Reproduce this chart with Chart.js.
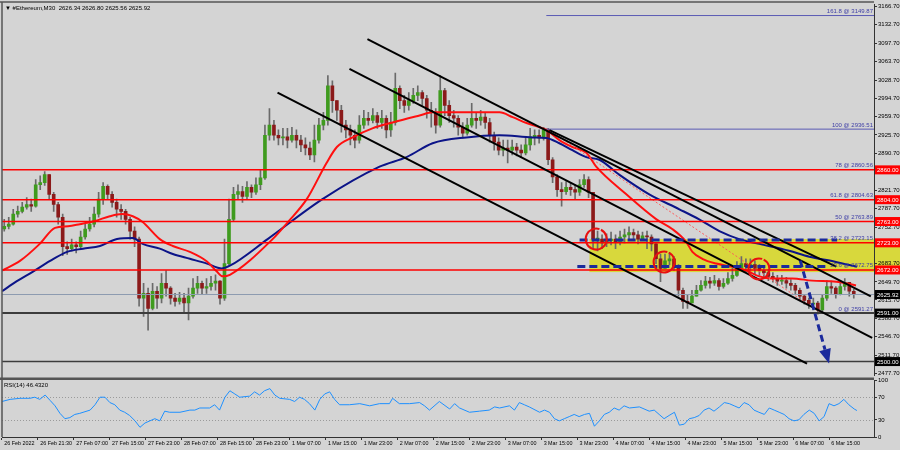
<!DOCTYPE html>
<html>
<head>
<meta charset="utf-8">
<script src="https://cdn.jsdelivr.net/npm/chart.js@4.4.0/dist/chart.umd.min.js"></script>
<style>
  html, body { margin: 0; padding: 0; background: #d4d4d4; }
  #wrap { position: relative; width: 900px; height: 450px; overflow: hidden; }
  canvas { position: absolute; left: 0; }
</style>
</head>
<body>
<div id="wrap">
  <canvas id="main" width="900" height="380" style="top:0"></canvas>
  <canvas id="rsi" width="900" height="80" style="top:370px"></canvas>
</div>
<script>
// time axis labels, one every 8 candle slots
const tickLabels = ['26 Feb 2022', '26 Feb 21:30', '27 Feb 07:00', '27 Feb 15:00', '27 Feb 23:00', '28 Feb 07:00',
  '28 Feb 15:00', '28 Feb 23:00', '1 Mar 07:00', '1 Mar 15:00', '1 Mar 23:00', '2 Mar 07:00', '2 Mar 15:00',
  '2 Mar 23:00', '3 Mar 07:00', '3 Mar 15:00', '3 Mar 23:00', '4 Mar 07:00', '4 Mar 15:00', '4 Mar 23:00',
  '5 Mar 15:00', '5 Mar 23:00', '6 Mar 07:00', '6 Mar 15:00'];
const nSlots = 194;
const firstOpen = 2749;

const closes = [2754,2758,2777,2782,2790,2795,2792,2832,2836,2851, 2814,2795,2771,2716,2712,2719,2716,2734,2749,2758,
  2777,2805,2829,2814,2799,2786,2782,2767,2745,2730, 2619,2628,2600,2632,2619,2647,2638,2619,2613,2619,
  2610,2623,2638,2647,2638,2641,2647,2651,2619,2684, 2767,2814,2819,2810,2827,2818,2832,2845,2925,2944,
  2925,2920,2922,2916,2925,2916,2907,2901,2888,2916, 2944,2953,3018,2990,2972,2944,2935,2925,2916,2944,
  2957,2953,2962,2949,2957,2935,2949,3013,2990,2981, 2990,3000,3005,2994,2972,2968,2944,3009,2981,2962,
  2957,2940,2929,2944,2957,2953,2959,2949,2925,2912, 2897,2901,2897,2903,2897,2892,2907,2922,2925,2920,
  2935,2879,2847,2823,2819,2827,2823,2818,2832,2842, 2818,2730,2730,2723,2727,2730,2725,2734,2738,2742,
  2738,2730,2736,2734,2721,2693,2675,2689,2693,2678, 2634,2613,2610,2623,2634,2643,2651,2647,2652,2641,
  2647,2656,2662,2675,2684,2678,2682,2675,2671,2667, 2660,2656,2651,2652,2647,2643,2634,2623,2615,2608,
  2610,2597,2619,2641,2638,2626,2641,2649,2632,2625.92];

const highs = [2767,2771,2786,2792,2799,2808,2805,2842,2849,2857, 2849,2818,2799,2777,2725,2730,2725,2745,2758,2771,
  2790,2818,2836,2832,2819,2805,2795,2786,2771,2753, 2734,2647,2638,2647,2641,2665,2671,2641,2628,2630,
  2628,2638,2656,2660,2651,2656,2660,2663,2652,2730, 2805,2827,2832,2829,2838,2832,2845,2860,2944,2975,
  2953,2935,2938,2938,2940,2935,2925,2920,2912,2944, 2957,2968,3037,3027,2990,2981,2953,2944,2935,2962,
  2972,2968,2975,2968,2972,2962,2968,3042,3018,3000, 3005,3013,3018,3009,3000,2987,2975,3037,3013,2990,
  2972,2962,2949,2957,2985,2968,2972,2968,2957,2931, 2920,2916,2916,2916,2910,2907,2920,2938,2935,2935,
  2940,2938,2883,2851,2836,2838,2836,2832,2842,2851, 2847,2818,2745,2738,2740,2743,2738,2745,2749,2753,
  2749,2745,2743,2745,2738,2723,2702,2702,2704,2697, 2682,2638,2626,2634,2643,2652,2660,2658,2662,2656,
  2656,2667,2675,2688,2697,2693,2693,2689,2682,2678, 2673,2667,2662,2662,2658,2654,2647,2638,2626,2619,
  2619,2613,2626,2652,2651,2641,2652,2656,2649,2636];

const lows = [2745,2749,2756,2771,2779,2786,2782,2790,2823,2831, 2805,2782,2758,2699,2701,2708,2704,2712,2730,2745,
  2753,2771,2795,2805,2790,2771,2767,2758,2730,2716, 2604,2585,2559,2597,2600,2610,2623,2608,2604,2608,
  2591,2578,2619,2628,2626,2628,2634,2634,2608,2615, 2682,2764,2805,2799,2805,2808,2814,2823,2842,2916,
  2916,2907,2907,2901,2912,2901,2894,2888,2879,2875, 2910,2935,2944,2968,2953,2931,2920,2907,2901,2910,
  2938,2944,2948,2938,2938,2920,2923,2944,2975,2968, 2972,2985,2990,2981,2957,2940,2929,2940,2962,2949,
  2940,2925,2920,2925,2940,2938,2944,2938,2912,2897, 2888,2886,2873,2888,2886,2883,2888,2897,2907,2910,
  2916,2870,2836,2810,2792,2814,2812,2805,2812,2827, 2808,2712,2708,2712,2716,2719,2712,2719,2723,2730,
  2727,2721,2727,2712,2708,2684,2650,2675,2682,2671, 2623,2600,2600,2610,2623,2632,2638,2638,2643,2634,
  2638,2645,2651,2660,2671,2669,2671,2665,2662,2658, 2652,2649,2643,2645,2638,2634,2626,2615,2608,2600,
  2597,2589,2593,2615,2628,2619,2625,2634,2623,2619];

// moving averages: [slot, price]
const redMA = [[-0.5,2671],[3.5,2689],[7.9,2721],[11.3,2751],[14.2,2754],[16.8,2758],[20.2,2764],[23.5,2773],
  [26.2,2777],[28.6,2773],[30.8,2762],[34.6,2730],[37.5,2717],[41.3,2706],[45.1,2688],[47.3,2669],[48.6,2660],
  [50.2,2663],[59.7,2730],[63.1,2762],[67.3,2805],[71.7,2873],[74.0,2903],[77.5,2921],[81.9,2938],[86.4,2949],
  [92.4,2962],[95.3,2968],[102.8,2968],[110.2,2968],[113.1,2959],[116.2,2948],[119.1,2940],[120.6,2935],
  [123.5,2916],[126.4,2903],[129.5,2892],[131.7,2866],[138.4,2814],[145.1,2767],[148.6,2749],[151.7,2725],
  [153.1,2706],[155.3,2693],[158.4,2684],[162.0,2678],[165.1,2671],[168.0,2660],[170.8,2656],[175.3,2656],
  [179.7,2652],[185.1,2650],[189.5,2643]];
const blueMA = [[-0.5,2632],[2.8,2651],[6.4,2669],[10.2,2689],[14.0,2706],[17.5,2712],[21.3,2717],[25.1,2730],
  [28.6,2732],[30.8,2721],[34.6,2712],[37.5,2702],[41.3,2693],[45.1,2684],[48.4,2675],[50.2,2680],[58.6,2730],
  [70.8,2805],[83.5,2866],[89.5,2884],[95.3,2910],[102.8,2921],[110.2,2925],[117.5,2921],[120.6,2920],
  [123.5,2910],[126.4,2897],[129.5,2884],[132.4,2879],[136.8,2851],[143.5,2814],[150.2,2786],[154.6,2767],
  [159.1,2745],[163.5,2730],[168.0,2721],[174.6,2708],[179.1,2697],[184.6,2688],[189.7,2678]];

// RSI(14): [slot, value]
const rsi = [[-0.5,62.3],[1.3,66.0],[3.5,67.9],[5.7,67.9],[6.8,69.8],[7.9,66.0],[9.1,73.6],[10.2,64.2],[11.3,54.7],
  [12.4,41.5],[13.5,32.1],[14.6,34.0],[15.7,39.6],[16.8,41.5],[19.1,47.2],[20.2,56.6],[21.3,69.8],[22.4,69.8],
  [23.5,60.4],[24.6,56.6],[25.7,47.2],[26.8,43.4],[27.9,37.7],[29.1,28.3],[30.2,17.0],[31.3,24.5],[32.4,28.3],
  [33.5,32.1],[34.6,28.3],[35.7,45.3],[36.8,43.4],[39.1,43.4],[41.3,47.2],[42.4,47.2],[43.5,50.9],[45.7,50.9],
  [46.8,56.6],[47.9,47.2],[49.1,69.8],[50.2,81.1],[51.3,75.5],[52.4,69.8],[54.6,71.7],[55.7,79.2],[56.8,73.6],
  [57.9,81.1],[59.1,84.9],[60.2,73.6],[61.3,67.9],[63.5,66.0],[64.6,62.3],[65.7,69.8],[66.8,66.0],[67.9,58.5],
  [69.1,47.2],[70.2,66.0],[71.3,75.5],[72.4,79.2],[73.5,66.0],[74.6,56.6],[76.8,56.6],[79.1,58.5],[81.3,54.7],
  [83.5,58.5],[85.7,58.5],[86.4,67.9],[87.9,58.5],[90.2,58.5],[92.4,60.4],[93.5,54.7],[94.6,47.2],[96.8,62.3],
  [99.1,49.1],[100.2,58.5],[101.3,50.9],[103.5,43.4],[105.7,45.3],[107.9,47.2],[109.1,52.8],[110.2,50.9],
  [112.4,54.7],[113.5,47.2],[114.6,60.4],[115.7,56.6],[116.8,52.8],[119.1,43.4],[120.2,47.2],[121.3,43.4],
  [122.4,32.1],[123.5,28.3],[124.6,32.1],[125.7,35.8],[126.8,39.6],[127.9,35.8],[129.1,39.6],[130.2,41.5],
  [131.3,18.9],[132.4,28.3],[133.5,39.6],[134.6,43.4],[135.7,50.9],[136.8,47.2],[137.9,54.7],[139.1,50.9],
  [141.3,52.8],[143.5,45.3],[144.6,47.2],[145.7,39.6],[146.8,32.1],[147.9,37.7],[149.1,43.4],[150.2,20.8],
  [151.3,22.6],[152.4,32.1],[153.5,34.0],[154.6,37.7],[155.7,47.2],[156.8,50.9],[157.9,45.3],[159.1,52.8],
  [160.2,60.4],[161.3,58.5],[162.4,54.7],[163.5,50.9],[164.6,60.4],[165.7,56.6],[166.8,47.2],[167.9,43.4],
  [169.1,39.6],[170.2,50.9],[171.3,47.2],[172.4,43.4],[173.5,39.6],[174.6,32.1],[175.7,28.3],[176.8,30.2],
  [177.9,39.6],[179.1,47.2],[180.2,41.5],[181.3,28.3],[182.4,35.8],[183.5,58.5],[184.6,54.7],[185.7,58.5],
  [186.8,66.0],[187.9,56.6],[189.1,49.1],[189.7,46.43]];

const priceTicks = [3166.7, 3132.7, 3097.7, 3063.7, 3028.7, 2994.7, 2959.7, 2925.7, 2890.7, 2856.7, 2821.7, 2787.7,
  2752.7, 2718.7, 2683.7, 2649.7, 2615.7, 2580.7, 2546.7, 2511.7, 2477.7];
const rsiTicks = [0, 30, 70, 100];
const redLevels = [2860, 2804, 2763, 2723, 2672];
const darkLevels = [2591, 2500];
const lastPrice = 2625.92;
const fibs = [['161.8', 3149.87], ['100', 2936.51], ['78', 2860.56], ['61.8', 2804.63], ['50', 2763.89],
  ['38.2', 2723.15], ['23.6', 2672.75], ['0', 2591.27]];

// drawn objects, in [slot, price]
const trendLines = [[[80.8, 3105.4], [192.8, 2622.6]], [[76.8, 3049.7], [193.1, 2544.6]],
  [[60.8, 3005.1], [178.6, 2496.3]], [[121.3, 2934.6], [185.1, 2678.3]]];
const fibStart = [120.6, 2938];
const fibEnd = [181.7, 2591];
const dashLines = [[[128, 2728.4], [185.3, 2728.4]], [[127.5, 2678.3], [183.5, 2678.3]]];
const arrowLine = [[177.1, 2689.4], [182.6, 2522.3]];
const arrowTip = [183.5, 2496.3];
const circles = [[131.7, 2730], [146.8, 2687], [167.9, 2674]];
const zone = [130.2, 2730, 2668];

const F = "'Liberation Sans', 'DejaVu Sans', sans-serif";
const FN = "'Liberation Sans Narrow', 'Liberation Sans', 'DejaVu Sans', sans-serif";
Chart.defaults.font.family = F;

const labels = Array.from({ length: nSlots }, (_, i) => (i % 8 === 0 && tickLabels[i / 8]) ? tickLabels[i / 8] : '');
const opens = closes.map((c, i) => i === 0 ? firstOpen : closes[i - 1]);
const wickData = closes.map((c, i) => [Math.min(lows[i], opens[i], c), Math.max(highs[i], opens[i], c)]);
const bodyData = closes.map((c, i) => [opens[i], c]);
const bodyColors = closes.map((c, i) => c >= opens[i] ? '#3f9b1e' : '#8b1a1a');

function seg(points, color, width, dash, order, smooth) {
  return {
    type: 'line', xAxisID: 'xl', yAxisID: 'y',
    data: points.map(p => ({ x: p[0], y: p[1] })),
    borderColor: color, borderWidth: width, borderDash: dash || [],
    pointRadius: 0, fill: false, order: order,
    cubicInterpolationMode: smooth ? 'monotone' : 'default', tension: 0
  };
}

const mainSets = [];
dashLines.forEach(l => mainSets.push(seg(l, '#1b2a9c', 3, [8, 4], 0)));
mainSets.push(seg(arrowLine, '#1b2a9c', 3, [7, 4], 0));
trendLines.forEach(l => mainSets.push(seg(l, '#000000', 2, null, 1)));
redLevels.forEach(v => mainSets.push(seg([[-0.5, v], [193.5, v]], '#ff0000', 1.5, null, 2)));
darkLevels.forEach((v, k) => mainSets.push(seg([[-0.5, v], [193.5, v]], '#3c3c3c', k === 0 ? 2 : 1.5, null, 2)));
mainSets.push(seg([[-0.5, lastPrice], [193.5, lastPrice]], '#8d9bb0', 1, null, 2));
mainSets.push(seg([[fibStart[0], fibs[0][1]], [193.5, fibs[0][1]]], '#5a5ab4', 1, null, 2));
mainSets.push(seg([[fibStart[0], fibs[1][1]], [193.5, fibs[1][1]]], '#5a5ab4', 1, null, 2));
mainSets.push(seg([fibStart, fibEnd], '#ff5a5a', 1, [2, 2], 2));
mainSets.push(seg(redMA, '#ff1010', 2, null, 3, true));
mainSets.push(seg(blueMA, '#0c1488', 2, null, 3, true));
mainSets.push({ type: 'bar', data: bodyData, backgroundColor: bodyColors, barThickness: 3, grouped: false,
  minBarLength: 1, order: 5, xAxisID: 'x', yAxisID: 'y' });
mainSets.push({ type: 'bar', data: wickData, backgroundColor: '#6a6a6a', barThickness: 1, grouped: false,
  order: 6, xAxisID: 'x', yAxisID: 'y' });

const mainOverlay = {
  id: 'mainOverlay',
  beforeDraw(chart) {
    const ctx = chart.ctx, xl = chart.scales.xl, y = chart.scales.y;
    const x0 = xl.getPixelForValue(zone[0]);
    const y0 = y.getPixelForValue(zone[1]), y1 = y.getPixelForValue(zone[2]);
    ctx.save();
    ctx.fillStyle = '#d8d83c';
    ctx.fillRect(x0, y0, 900 - x0, y1 - y0);
    ctx.restore();
  },
  afterDatasetsDraw(chart) {
    const ctx = chart.ctx, xl = chart.scales.xl, y = chart.scales.y;
    ctx.save();
    // circles
    ctx.strokeStyle = '#e81010';
    ctx.lineWidth = 2;
    circles.forEach(c => {
      ctx.beginPath();
      ctx.arc(xl.getPixelForValue(c[0]), y.getPixelForValue(c[1]), 10.5, -0.35 * Math.PI, 1.6 * Math.PI);
      ctx.stroke();
    });
    // arrow head
    const ax = xl.getPixelForValue(arrowLine[1][0]), ay = y.getPixelForValue(arrowLine[1][1]);
    const tx = xl.getPixelForValue(arrowTip[0]), ty = y.getPixelForValue(arrowTip[1]);
    const len = Math.hypot(tx - ax, ty - ay), nx = -(ty - ay) / len, ny = (tx - ax) / len;
    ctx.fillStyle = '#1b2a9c';
    ctx.beginPath();
    ctx.moveTo(tx, ty);
    ctx.lineTo(ax + nx * 6, ay + ny * 6);
    ctx.lineTo(ax - nx * 6, ay - ny * 6);
    ctx.closePath();
    ctx.fill();
    ctx.restore();
  },
  afterDraw(chart) {
    const ctx = chart.ctx, y = chart.scales.y, area = chart.chartArea;
    ctx.save();
    // frame
    ctx.strokeStyle = '#555';
    ctx.lineWidth = 1.5;
    ctx.beginPath();
    ctx.moveTo(0, 2); ctx.lineTo(area.right, 2);
    ctx.moveTo(2, 2); ctx.lineTo(2, 380);
    ctx.stroke();
    // fibo texts
    ctx.font = '6px ' + F;
    ctx.fillStyle = '#3e3ea6';
    ctx.textAlign = 'right';
    ctx.textBaseline = 'bottom';
    fibs.forEach(f => ctx.fillText(f[0] + ' @ ' + f[1].toFixed(2), area.right - 1, y.getPixelForValue(f[1]) - 1));
    // price boxes
    const boxes = redLevels.map(v => [v, '#ff0000']).concat([[lastPrice, '#000000']], darkLevels.map(v => [v, '#000000']));
    ctx.textAlign = 'left';
    ctx.textBaseline = 'middle';
    boxes.forEach(b => {
      const py = y.getPixelForValue(b[0]);
      ctx.fillStyle = b[1];
      ctx.fillRect(area.right + 1, py - 4.5, 26, 9);
      ctx.fillStyle = '#ffffff';
      ctx.fillText(b[0].toFixed(2), area.right + 3, py + 0.5);
    });
    // header
    ctx.fillStyle = '#000';
    ctx.font = '6px ' + F;
    ctx.fillText('\u25BC #Ethereum,M30  2626.34 2626.80 2625.56 2625.92', 5, 8);
    ctx.restore();
  }
};

new Chart(document.getElementById('main'), {
  type: 'bar',
  data: { labels: labels, datasets: mainSets },
  options: {
    responsive: false, animation: false, devicePixelRatio: 1, events: [],
    layout: { padding: { left: 2, top: 3, right: 0, bottom: 2 } },
    plugins: { legend: { display: false }, tooltip: { enabled: false } },
    scales: {
      x: { type: 'category', display: false, offset: true },
      xl: { type: 'linear', display: false, min: -0.5, max: 193.5, offset: false },
      y: {
        position: 'right', min: 2474, max: 3170.4,
        afterBuildTicks: s => { s.ticks = priceTicks.map(v => ({ value: v })); },
        afterFit: s => { s.width = 26; },
        grid: { drawOnChartArea: false, tickLength: 3, tickColor: '#333' },
        border: { color: '#333', width: 1 },
        ticks: { font: { size: 6 }, color: '#000', padding: 1, callback: v => v.toFixed(2) }
      }
    }
  },
  plugins: [mainOverlay]
});

const rsiOverlay = {
  id: 'rsiOverlay',
  beforeDatasetsDraw(chart) {
    const ctx = chart.ctx, y = chart.scales.y, area = chart.chartArea;
    ctx.save();
    ctx.strokeStyle = '#9a9a9a';
    ctx.lineWidth = 1;
    ctx.setLineDash([1, 2]);
    [70, 30].forEach(v => {
      const py = Math.round(y.getPixelForValue(v)) + 0.5;
      ctx.beginPath(); ctx.moveTo(area.left, py); ctx.lineTo(area.right, py); ctx.stroke();
    });
    ctx.restore();
  },
  afterDraw(chart) {
    const ctx = chart.ctx, area = chart.chartArea;
    ctx.save();
    ctx.fillStyle = '#555';
    ctx.fillRect(0, area.top - 2.5, area.right, 2.5);
    ctx.strokeStyle = '#555';
    ctx.lineWidth = 1.5;
    ctx.beginPath(); ctx.moveTo(2, area.top - 2); ctx.lineTo(2, area.bottom); ctx.stroke();
    ctx.fillStyle = '#000';
    ctx.font = '6px ' + F;
    ctx.textBaseline = 'middle';
    ctx.fillText('RSI(14) 46.4320', 4, area.top + 5);
    ctx.restore();
  }
};

new Chart(document.getElementById('rsi'), {
  type: 'line',
  data: {
    labels: labels,
    datasets: [{
      xAxisID: 'xl', yAxisID: 'y',
      data: rsi.map(p => ({ x: p[0], y: p[1] })),
      borderColor: '#1e90ff', borderWidth: 1, pointRadius: 0, tension: 0, fill: false
    }]
  },
  options: {
    responsive: false, animation: false, devicePixelRatio: 1, events: [],
    layout: { padding: { left: 2, top: 10, right: 0, bottom: 0 } },
    plugins: { legend: { display: false }, tooltip: { enabled: false } },
    scales: {
      x: {
        type: 'category', offset: true,
        grid: { offset: true, drawOnChartArea: false, tickLength: 3,
          tickColor: c => labels[c.index] ? '#333' : 'rgba(0,0,0,0)' },
        border: { color: '#333', width: 1 },
        ticks: { autoSkip: false, maxRotation: 0, minRotation: 0, align: 'start', padding: 0,
          font: { size: 5.4, family: FN }, color: '#000' },
        afterFit: s => { s.height = 13; }
      },
      xl: { type: 'linear', display: false, min: -0.5, max: 193.5, offset: false },
      y: {
        position: 'right', min: 0, max: 100,
        afterBuildTicks: s => { s.ticks = rsiTicks.map(v => ({ value: v })); },
        afterFit: s => { s.width = 26; },
        grid: { drawOnChartArea: false, tickLength: 3, tickColor: '#333' },
        border: { color: '#333', width: 1 },
        ticks: { font: { size: 6 }, color: '#000', padding: 1 }
      }
    }
  },
  plugins: [rsiOverlay]
});
</script>
</body>
</html>
